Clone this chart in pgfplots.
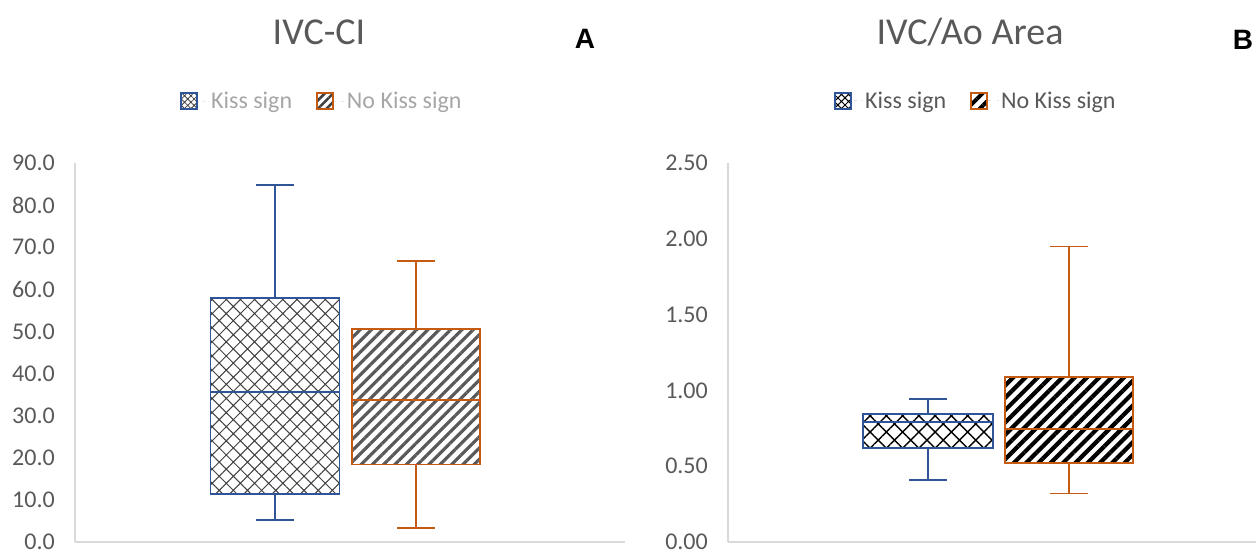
\documentclass[border=0pt]{standalone}
\usepackage{pgfplots}
\pgfplotsset{compat=1.18}
\usepgfplotslibrary{statistics}
\usetikzlibrary{patterns.meta}
\usepackage{fontspec}
\setmainfont{Carlito}
\newfontfamily\arialfont{Liberation Sans}
\definecolor{kblue}{HTML}{2F5597}
\definecolor{korange}{HTML}{C55A11}
\definecolor{tgray}{HTML}{595959}
\definecolor{lgray}{HTML}{A6A6A6}
\definecolor{agray}{HTML}{D9D9D9}
\definecolor{pgray}{HTML}{404040}
\pgfplotsset{
  panel/.style={
    scale only axis, height=379pt,
    axis x line=bottom, axis y line=left,
    axis line style={-, draw=agray, line width=1.5pt},
    xtick=\empty, major tick length=0pt,
    enlargelimits=false, xmin=0, ymin=0,
    yticklabel style={anchor=east, inner sep=0pt, xshift=-20pt, font=\fontsize{24}{24}\selectfont, text=tgray,
      /pgf/number format/fixed, /pgf/number format/fixed zerofill, /pgf/number format/assume math mode=true},
    boxplot/draw direction=y,
    legend columns=2,
    legend style={draw=none, fill=none, inner sep=0pt, font=\fontsize{24}{24}\selectfont,
      /tikz/every even column/.append style={column sep=22pt}},
    legend image code/.code={\draw[#1, line width=1.6pt] (0pt,-8pt) rectangle (16pt,8pt); \path[draw=none] (0pt,0pt) -- (28pt,0pt);},
  },
}
\begin{document}
\begin{tikzpicture}
\path[use as bounding box] (0,0) rectangle (1256pt,554pt);
% Panel A
\begin{axis}[panel, at={(75pt,12pt)}, anchor=south west, width=550pt, xmax=5.50, ymax=90,
  ytick={0,10,...,90}, yticklabel style={/pgf/number format/precision=1},
  legend style={at={(0.449,1.1636)}, anchor=center, text=lgray}]
\addlegendimage{draw=kblue, pattern={Hatch[angle=45,distance=4.5pt,line width=0.8pt]}, pattern color=pgray}
\addlegendentry{Kiss sign}
\addlegendimage{draw=korange, pattern={Lines[angle=45,distance=6pt,line width=2.5pt]}, pattern color=pgray}
\addlegendentry{No Kiss sign}
\addplot[draw=kblue, line width=1.6pt, boxplot/every box/.style={pattern={Hatch[angle=45,distance=10pt,line width=1pt]}, pattern color=pgray},
  boxplot prepared={draw position=2.00, lower whisker=5.2, lower quartile=11.4, median=35.6, upper quartile=57.9, upper whisker=84.8, box extend=1.29, whisker extend=0.38}] coordinates {};
\addplot[draw=korange, line width=1.6pt, boxplot/every box/.style={pattern={Lines[angle=45,distance=8pt,line width=3.2pt]}, pattern color=tgray},
  boxplot prepared={draw position=3.41, lower whisker=3.3, lower quartile=18.4, median=33.7, upper quartile=50.6, upper whisker=66.7, box extend=1.28, whisker extend=0.38}] coordinates {};
\end{axis}
% Panel B
\begin{axis}[panel, at={(728pt,12pt)}, anchor=south west, width=528pt, xmax=5.28, ymax=2.5,
  ytick={0,0.5,...,2.5}, yticklabel style={/pgf/number format/precision=2},
  legend style={at={(0.4697,1.1636)}, anchor=center, text=tgray}]
\addlegendimage{draw=kblue, pattern={Hatch[angle=45,distance=5pt,line width=1pt]}, pattern color=black}
\addlegendentry{Kiss sign}
\addlegendimage{draw=korange, pattern={Lines[angle=45,distance=9pt,line width=4pt]}, pattern color=black}
\addlegendentry{No Kiss sign}
\addplot[draw=kblue, line width=1.6pt, boxplot/every box/.style={pattern={Hatch[angle=45,distance=11.5pt,line width=1.4pt]}, pattern color=black},
  boxplot prepared={draw position=2.00, lower whisker=0.41, lower quartile=0.622, median=0.79, upper quartile=0.843, upper whisker=0.943, box extend=1.30, whisker extend=0.38}] coordinates {};
\addplot[draw=korange, line width=1.6pt, boxplot/every box/.style={pattern={Lines[angle=45,distance=8.7pt,line width=4.2pt]}, pattern color=black},
  boxplot prepared={draw position=3.41, lower whisker=0.32, lower quartile=0.523, median=0.747, upper quartile=1.09, upper whisker=1.948, box extend=1.28, whisker extend=0.38}] coordinates {};
\end{axis}
% Titles and panel letters
\node[text=tgray, font=\fontsize{38}{38}\selectfont] at (319pt,522pt) {IVC-CI};
\node[text=tgray, font=\fontsize{38}{38}\selectfont] at (970pt,522pt) {IVC/Ao Area};
\node[font=\arialfont\bfseries\fontsize{28}{28}\selectfont] at (585pt,515pt) {A};
\node[font=\arialfont\bfseries\fontsize{28}{28}\selectfont] at (1243pt,514pt) {B};
\end{tikzpicture}
\end{document}
